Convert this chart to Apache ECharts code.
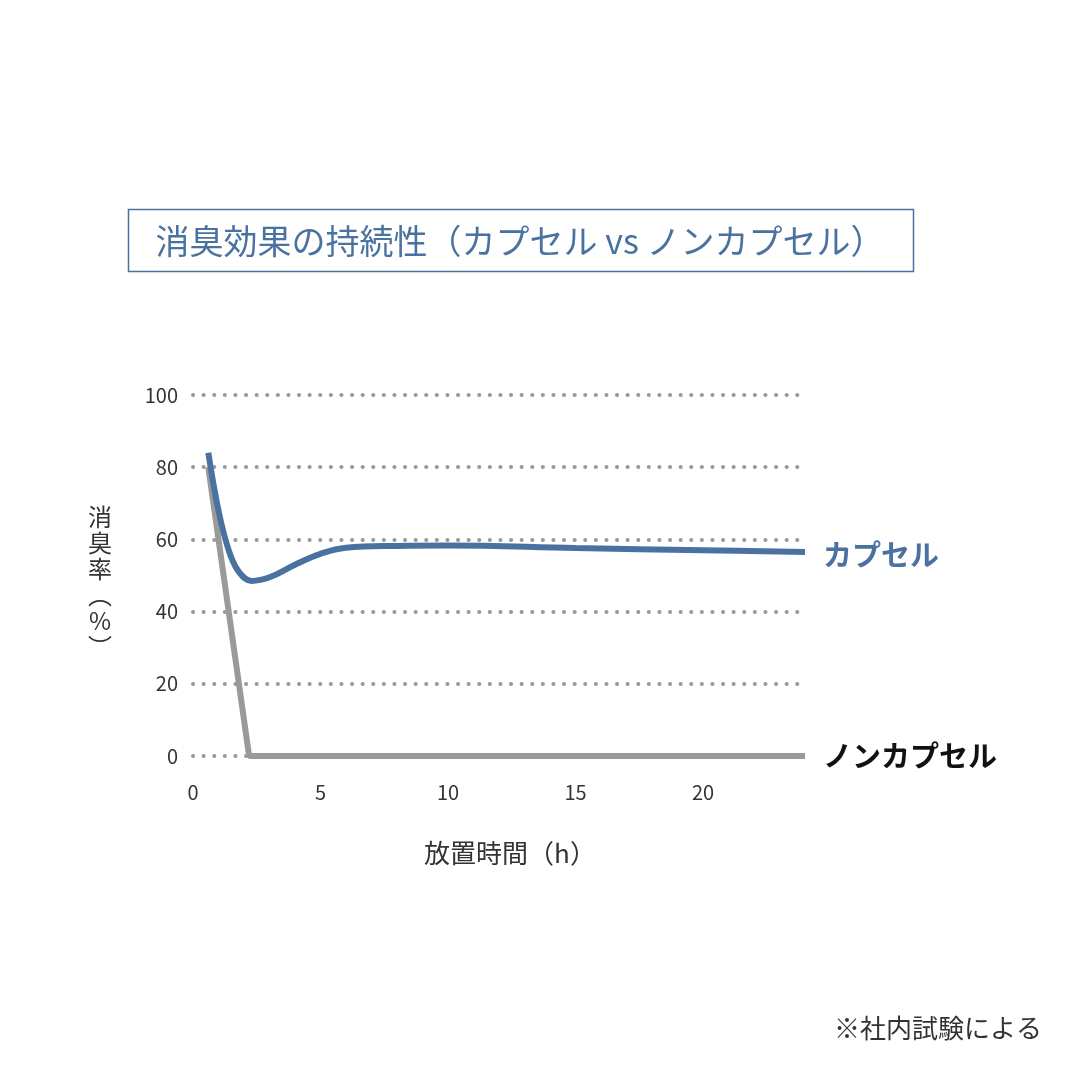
<!DOCTYPE html>
<html><head><meta charset="utf-8">
<script src="https://cdn.jsdelivr.net/npm/echarts@6/dist/echarts.min.js"></script>
<style>html,body{margin:0;background:#fff}#c{width:1080px;height:1080px}</style>
</head><body><div id="c"></div>
<script>
const yTicks = [0, 20, 40, 60, 80, 100];
const xTicks = [0, 5, 10, 15, 20];
const capsule = [[0.6, 84], [1.0, 68], [1.4, 57], [1.8, 51], [2.3, 48.5], [3.0, 49.5], [4.0, 53], [5.0, 56], [6.0, 57.7], [8, 58.2], [10, 58.3], [15, 57.6], [20, 57], [24, 56.5]];
const nonCapsule = [[0.6, 80], [2.2, 0], [24, 0]];
const F = '"Noto Sans CJK JP", sans-serif';
const chart = echarts.init(document.getElementById('c'));
chart.setOption({
  animation: false,
  grid: {left: 193, right: 275, top: 395, bottom: 324},
  xAxis: {type: 'value', min: 0, max: 24, interval: 5,
    axisLine: {show: false}, axisTick: {show: false}, splitLine: {show: false},
    axisLabel: {color: '#333', fontSize: 20, fontFamily: F, margin: 26,
      formatter: v => xTicks.includes(v) ? String(v) : ''}},
  yAxis: {type: 'value', min: 0, max: 100, interval: 20,
    axisLine: {show: false}, axisTick: {show: false},
    splitLine: {lineStyle: {type: [0.1, 10.5], width: 4, color: '#999', cap: 'round'}},
    axisLabel: {color: '#333', fontSize: 20, fontFamily: F, margin: 15,
      formatter: v => yTicks.includes(v) ? String(v) : ''}},
  graphic: [
    {type: 'rect', shape: {x: 128.5, y: 209.5, width: 785, height: 62}, style: {fill: 'none', stroke: '#4a72a0', lineWidth: 1.5}},
    {type: 'text', x: 520, y: 241, style: {text: '消臭効果の持続性（カプセル vs ノンカプセル）', fill: '#4a72a0', font: '34px ' + F, align: 'center', verticalAlign: 'middle'}},
    {type: 'text', x: 100, y: 582, style: {text: '消\n臭\n率\n︵\n%\n︶', fill: '#333', font: '24px ' + F, align: 'center', verticalAlign: 'middle', lineHeight: 26}},
    {type: 'text', x: 510, y: 853, style: {text: '放置時間（h）', fill: '#333', font: '26px ' + F, align: 'center', verticalAlign: 'middle'}},
    {type: 'text', x: 1042, y: 1028, style: {text: '※社内試験による', fill: '#333', font: '26px ' + F, align: 'right', verticalAlign: 'middle'}}
  ],
  series: [
    {type: 'line', data: nonCapsule, symbol: 'none', lineStyle: {color: '#9a9a9a', width: 6},
      endLabel: {show: true, formatter: 'ノンカプセル', color: '#111', fontWeight: 'bold', fontSize: 29, fontFamily: F, distance: 18}},
    {type: 'line', data: capsule, smooth: 0.4, symbol: 'none', lineStyle: {color: '#4a72a0', width: 6},
      endLabel: {show: true, formatter: 'カプセル', color: '#4a72a0', fontWeight: 'bold', fontSize: 29, fontFamily: F, distance: 18, offset: [0, 3]}}
  ]
});
</script></body></html>
